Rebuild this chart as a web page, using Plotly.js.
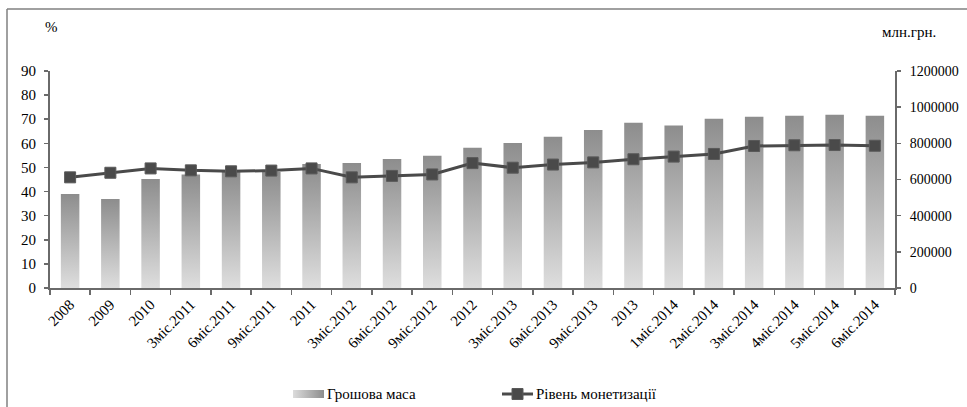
<!DOCTYPE html>
<html>
<head>
<meta charset="utf-8">
<script src="https://cdn.plot.ly/plotly-3.0.1.min.js"></script>
<style>
  html, body { margin: 0; padding: 0; background: #fff; }
  #chart { width: 967px; height: 407px; }
</style>
</head>
<body>
<div id="chart"></div>
<script>
// ---- data ----
const categories = ['2008','2009','2010','3міс.2011','6міс.2011','9міс.2011','2011',
  '3міс.2012','6міс.2012','9міс.2012','2012','3міс.2013','6міс.2013','9міс.2013','2013',
  '1міс.2014','2міс.2014','3міс.2014','4міс.2014','5міс.2014','6міс.2014'];
const moneySupply = [520000, 492000, 603000, 627000, 643000, 642000, 686000,
  691000, 713000, 732000, 776000, 802000, 837000, 874000, 914000,
  898000, 936000, 947000, 953000, 958000, 953000];
const monetization = [45.9, 47.8, 49.6, 48.8, 48.4, 48.7, 49.6,
  45.9, 46.5, 47.1, 51.8, 49.9, 51.2, 52.1, 53.4,
  54.5, 55.6, 58.9, 59.2, 59.3, 59.0];
const leftTicks = [0,10,20,30,40,50,60,70,80,90];
const rightTicks = [0,200000,400000,600000,800000,1000000,1200000];
const seriesNames = ['Грошова маса', 'Рівень монетизації'];
const leftUnit = '%';
const rightUnit = 'млн.грн.';

// ---- layout helpers ----
const W = 967, H = 407;
const M = {l: 50, r: 72, t: 71, b: 119};
const PW = W - M.l - M.r, PH = H - M.t - M.b;
const px = x => (x - M.l) / PW;
const py = y => (H - M.b - y) / PH;

const FONT = 'Liberation Serif, Times New Roman, serif';
const AX = '#6a6a6a';
const LINEC = '#4a4a4a';
const TF = {family: FONT, size: 15, color: '#000'};
const TFR = {family: FONT, size: 14, color: '#000'};

const traces = [
  {
    type: 'bar', name: seriesNames[0], x: categories, y: moneySupply,
    xaxis: 'x', yaxis: 'y',
    marker: {color: 'rgb(177,177,177)', line: {width: 0}},
    hoverinfo: 'x+y'
  },
  {
    type: 'scatter', mode: 'lines+markers', name: seriesNames[1],
    x: categories, y: monetization, xaxis: 'x', yaxis: 'y2',
    line: {color: LINEC, width: 3},
    marker: {symbol: 'square', size: 11, color: LINEC, line: {color: '#5a5a5a', width: 1}},
    cliponaxis: false
  }
];

const frame = '#808080';
const layout = {
  width: W, height: H,
  margin: M,
  paper_bgcolor: '#fff', plot_bgcolor: '#fff',
  font: TF,
  showlegend: false,
  bargap: 0.54,
  xaxis: {
    type: 'category', tickangle: -45, tickson: 'boundaries',
    ticks: 'outside', ticklen: 5, tickwidth: 1.5, tickcolor: AX,
    showline: true, linecolor: AX, linewidth: 2,
    showgrid: false, zeroline: false,
    tickfont: TF,
    range: [-0.5, categories.length - 0.5]
  },
  yaxis: {
    side: 'right', range: [0, 1200000], tickvals: rightTicks,
    ticktext: rightTicks.map(String),
    ticks: 'outside', ticklen: 4, tickwidth: 1.5, tickcolor: AX,
    showline: true, linecolor: AX, linewidth: 2,
    showgrid: false, zeroline: false, ticklabelstandoff: 6,
    tickfont: TFR
  },
  yaxis2: {
    overlaying: 'y', side: 'left', range: [0, 90], tickvals: leftTicks,
    ticks: 'outside', ticklen: 4, tickwidth: 1.5, tickcolor: AX,
    showline: true, linecolor: AX, linewidth: 2,
    showgrid: false, zeroline: false, ticklabelstandoff: 5,
    tickfont: TF
  },
  shapes: [
    {type: 'line', xref: 'paper', yref: 'paper', x0: px(7), x1: px(7), y0: py(9), y1: py(420),
     line: {color: frame, width: 1.5}},
    {type: 'line', xref: 'paper', yref: 'paper', x0: px(7), x1: px(980), y0: py(9), y1: py(9),
     line: {color: frame, width: 1.5}},
    {type: 'rect', xref: 'paper', yref: 'paper', x0: px(293), x1: px(324), y0: py(398), y1: py(390),
     fillcolor: 'rgb(178,178,179)', line: {width: 0}},
    {type: 'line', xref: 'paper', yref: 'paper', x0: px(502), x1: px(533), y0: py(394), y1: py(394),
     line: {color: LINEC, width: 3}},
    {type: 'rect', xref: 'paper', yref: 'paper', x0: px(512), x1: px(523), y0: py(399.5), y1: py(388.5),
     fillcolor: LINEC, line: {color: '#5a5a5a', width: 1}}
  ],
  annotations: [
    {xref: 'paper', yref: 'paper', x: px(51), y: py(27), text: leftUnit, showarrow: false,
     xanchor: 'center', yanchor: 'middle', font: TF},
    {xref: 'paper', yref: 'paper', x: px(909), y: py(32), text: rightUnit, showarrow: false,
     xanchor: 'center', yanchor: 'middle', font: TF},
    {xref: 'paper', yref: 'paper', x: px(325), y: py(394), text: seriesNames[0], showarrow: false,
     xanchor: 'left', yanchor: 'middle', font: TF},
    {xref: 'paper', yref: 'paper', x: px(534), y: py(394), text: seriesNames[1], showarrow: false,
     xanchor: 'left', yanchor: 'middle', font: TF}
  ]
};

function applyGradients(gd) {
  const svg = gd.querySelector('svg.main-svg');
  if (!svg) return;
  const NS = 'http://www.w3.org/2000/svg';
  let defs = svg.querySelector('defs');
  if (!defs) { defs = document.createElementNS(NS, 'defs'); svg.insertBefore(defs, svg.firstChild); }
  function grad(id, x1, y1, x2, y2, c1, c2) {
    const g = document.createElementNS(NS, 'linearGradient');
    g.setAttribute('id', id);
    g.setAttribute('x1', x1); g.setAttribute('y1', y1);
    g.setAttribute('x2', x2); g.setAttribute('y2', y2);
    [[0, c1], [1, c2]].forEach(([o, c]) => {
      const s = document.createElementNS(NS, 'stop');
      s.setAttribute('offset', o); s.setAttribute('stop-color', c);
      g.appendChild(s);
    });
    defs.appendChild(g);
  }
  grad('barGradV', '0', '0', '0', '1', '#8d8d8d', '#dedede');
  grad('barGradH', '0', '0', '1', '0', '#dcdcdc', '#8d8d8d');
  gd.querySelectorAll('.barlayer .trace.bars .point path').forEach(p => {
    p.style.fill = 'url(#barGradV)';
  });
  gd.querySelectorAll('.shapelayer path').forEach(p => {
    const f = p.style.fill || '';
    if (f.replace(/\s/g, '') === 'rgb(178,178,179)') p.style.fill = 'url(#barGradH)';
  });
}

Plotly.newPlot('chart', traces, layout, {staticPlot: true, displayModeBar: false})
  .then(applyGradients);
</script>
</body>
</html>
